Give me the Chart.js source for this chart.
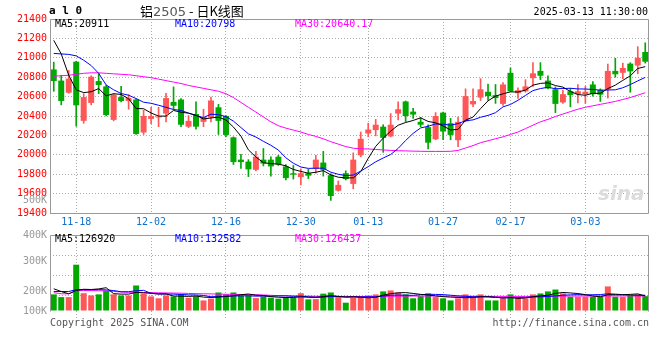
<!DOCTYPE html>
<html>
<head>
<meta charset="utf-8">
<title>铝2505 - 日K线图</title>
<script src="https://cdn.jsdelivr.net/npm/chart.js@4.4.1/dist/chart.umd.min.js"></script>
<style>
body { margin: 0; background: #fff; }
#page { position: relative; width: 660px; height: 360px; overflow: hidden; font-family: 'DejaVu Sans Mono', monospace; font-size: 10px; color: #000; }
canvas { position: absolute; left: 0; }
.t { position: absolute; white-space: nowrap; line-height: 12px; }
</style>
</head>
<body>
<div id="page">
  <canvas id="kChart" width="660" height="232" style="top:0"></canvas>
  <canvas id="volChart" width="660" height="110" style="top:226px"></canvas>

  <div class="t" style="left:49px;top:5px;font-weight:bold;font-size:11px">a l 0</div>
  <div class="t" style="left:140px;top:3px;font-family:'Noto Sans CJK SC';font-size:13px;line-height:16px">铝<span style="color:#555;font-family:'DejaVu Sans'">2505</span> - 日K线图</div>
  <div class="t" style="right:12px;top:6px">2025-03-13 11:30:00</div>

  <div class="t" style="left:55px;top:18px;color:#000">MA5:20911</div>
  <div class="t" style="left:175px;top:18px;color:#0000ff">MA10:20798</div>
  <div class="t" style="left:295px;top:18px;color:#ff00ff">MA30:20640.17</div>

  <div class="t" style="left:0;width:47px;text-align:right;top:194px;color:#999">500K</div>
  <div class="t" style="left:598px;top:182px;font-family:'DejaVu Sans';font-style:italic;font-weight:bold;font-size:20px;line-height:22px;color:#dcdcdc">sina</div>

  <div class="t" style="left:55px;top:233px;color:#000">MA5:126920</div>
  <div class="t" style="left:175px;top:233px;color:#0000ff">MA10:132582</div>
  <div class="t" style="left:295px;top:233px;color:#ff00ff">MA30:126437</div>

  <div class="t" style="left:50px;top:317px;color:#555">Copyright 2025 SINA.COM</div>
  <div class="t" style="right:11px;top:317px;color:#555">http://finance.sina.com.cn</div>
</div>

<script>
// trading days shown on the chart
const dates = [
  '11-13','11-14','11-15','11-18','11-19','11-20','11-21','11-22','11-25','11-26','11-27','11-28','11-29',
  '12-02','12-03','12-04','12-05','12-06','12-09','12-10','12-11','12-12','12-13',
  '12-16','12-17','12-18','12-19','12-20','12-23','12-24','12-25','12-26','12-27','12-30','12-31',
  '01-02','01-03','01-06','01-07','01-08','01-09','01-10','01-13','01-14','01-15','01-16','01-17',
  '01-20','01-21','01-22','01-23','01-24','01-27',
  '02-05','02-06','02-07','02-10','02-11','02-12','02-13','02-14','02-17','02-18','02-19','02-20',
  '02-21','02-24','02-25','02-26','02-27','02-28',
  '03-03','03-04','03-05','03-06','03-07','03-10','03-11','03-12','03-13'
];
const dateTicks = ['11-18','12-02','12-16','12-30','01-13','01-27','02-17','03-03'];

const open = [
  20880,20765,20640,20960,20350,20535,20760,20705,20360,20595,
  20555,20570,20230,20370,20385,20425,20545,20570,20290,20420,
  20340,20385,20490,20400,20180,19950,19930,19845,19950,19950,
  19980,19880,19810,19770,19810,19855,19920,19790,19630,19810,
  19700,19995,20220,20255,20290,20190,20425,20550,20445,20340,
  20285,20160,20435,20325,20150,20345,20520,20590,20650,20615,
  20525,20845,20635,20655,20790,20865,20765,20675,20540,20655,
  20625,20625,20725,20670,20675,20865,20845,20940,20920,21060
];
const close = [
  20760,20555,20785,20510,20595,20805,20720,20410,20620,20555,
  20585,20215,20400,20400,20395,20585,20505,20310,20350,20290,
  20390,20560,20350,20205,19925,19925,19850,19980,19910,19880,
  19900,19760,19795,19810,19785,19950,19845,19575,19690,19750,
  19950,20165,20260,20310,20175,20310,20470,20400,20415,20310,
  20125,20400,20240,20205,20340,20605,20555,20675,20605,20585,
  20725,20655,20665,20705,20840,20815,20685,20525,20625,20615,
  20655,20650,20625,20620,20865,20830,20895,20860,21000,20960
];
const high = [
  20955,20820,20870,20965,20630,20815,20835,20715,20630,20705,
  20620,20575,20460,20490,20490,20635,20700,20580,20405,20545,
  20470,20595,20520,20405,20185,20005,19950,20035,20065,19980,
  19995,19900,19890,19855,19850,19995,20035,19805,19730,19835,
  20020,20235,20325,20365,20310,20425,20545,20555,20480,20385,
  20310,20435,20440,20375,20390,20680,20680,20785,20730,20725,
  20745,20895,20690,20775,20950,20950,20815,20700,20665,20685,
  20725,20705,20755,20680,20935,20995,20945,20950,21115,21155
];
const low = [
  20655,20515,20635,20295,20325,20515,20630,20400,20350,20545,
  20470,20210,20210,20320,20290,20340,20470,20290,20280,20265,
  20290,20340,20210,20185,19900,19860,19775,19835,19885,19780,
  19890,19740,19750,19690,19755,19810,19780,19530,19625,19740,
  19650,19980,20185,20195,20025,20185,20360,20340,20375,20290,
  20060,20155,20155,20155,20085,20340,20495,20560,20560,20530,
  20510,20650,20580,20645,20705,20775,20680,20435,20530,20495,
  20535,20530,20605,20550,20585,20800,20785,20645,20835,20945
];
const ma5 = [
  21180,21040,20820,20670,20641,20650,20683,20608,20630,20622,
  20578,20477,20475,20431,20399,20399,20457,20439,20429,20408,
  20369,20380,20388,20359,20286,20193,20051,19977,19918,19909,
  19904,19886,19849,19829,19810,19820,19837,19793,19769,19762,
  19762,19826,19963,20087,20172,20244,20305,20333,20354,20381,
  20344,20330,20298,20256,20262,20358,20389,20476,20556,20605,
  20629,20649,20647,20667,20718,20736,20742,20714,20698,20653,
  20621,20614,20634,20633,20683,20718,20767,20814,20890,20909
];
const ma10 = [
  21045,21040,21035,21020,20975,20920,20840,20720,20670,20632,
  20614,20580,20542,20531,20511,20489,20467,20457,20430,20404,
  20384,20419,20414,20394,20347,20281,20216,20183,20139,20098,
  20049,19969,19913,19874,19860,19862,19862,19821,19799,19786,
  19791,19832,19878,19928,19967,20003,20066,20148,20221,20277,
  20294,20318,20316,20305,20322,20351,20360,20387,20406,20434,
  20494,20519,20562,20612,20662,20683,20696,20681,20683,20686,
  20679,20678,20674,20666,20668,20670,20691,20724,20762,20798
];
const ma30 = [
  20810,20815,20820,20830,20840,20845,20845,20840,20835,20830,
  20825,20815,20805,20795,20780,20765,20750,20735,20715,20700,
  20685,20670,20655,20630,20590,20540,20490,20440,20390,20340,
  20300,20275,20255,20235,20210,20190,20165,20135,20110,20085,
  20068,20062,20060,20055,20050,20045,20042,20040,20038,20036,
  20035,20035,20035,20036,20045,20070,20095,20125,20145,20165,
  20185,20210,20235,20270,20305,20340,20365,20395,20420,20445,
  20470,20490,20505,20520,20535,20550,20570,20590,20615,20640
];

// volume in thousands of lots
const volumeK = [
  140,117,117,390,150,131,140,168,140,131,
  131,215,146,123,107,131,123,140,112,123,
  89,104,156,140,156,131,131,109,123,112,
  104,117,112,150,98,100,146,156,117,70,
  112,123,131,140,165,173,156,140,107,125,
  148,117,107,89,107,140,123,140,89,89,
  107,140,107,107,140,148,165,181,148,120,
  120,120,120,120,207,120,120,131,140,125
];
const volMa5 = [
  187,164,145,173,183,181,186,196,146,142,
  142,157,153,149,144,144,126,125,123,126,
  117,114,117,122,129,137,143,133,130,121,
  116,113,114,119,116,115,121,130,123,118,
  120,116,111,115,134,146,153,155,148,140,
  135,127,121,117,114,112,113,120,120,116,
  110,113,106,110,120,128,133,148,156,152,
  147,138,126,120,137,137,137,140,144,127
];
const volMa10 = [
  164,164,164,180,180,180,180,178,172,162,
  162,171,174,148,143,143,142,139,136,135,
  131,120,121,123,127,127,128,125,126,125,
  127,128,124,125,119,116,117,122,121,117,
  118,118,120,119,126,133,134,133,132,137,
  141,140,138,133,127,124,120,120,119,115,
  111,113,113,115,118,119,123,127,133,136,
  138,136,137,138,145,142,138,133,132,133
];
const volMa30 = [
  154,145,145,170,172,172,170,170,165,160,
  158,158,156,155,153,152,151,150,148,146,
  145,144,142,141,140,139,138,137,135,132,
  129,127,126,125,125,124,124,124,123,123,
  122,122,122,122,123,124,125,125,126,126,
  126,126,126,125,125,124,124,124,123,123,
  123,123,123,123,123,124,124,125,125,126,
  126,126,126,127,127,127,127,127,126,126
];
const volGrid = [130, 297, 464];
const volTickVals = [0, 167, 417, 640];
const volTickLabels = ['100K', '200K', '300K', '400K'];

const UP = '#ff5757';
const DOWN = '#00a800';
const GRID = '#aaaaaa';

Chart.defaults.font.family = "'DejaVu Sans Mono', monospace";
Chart.defaults.font.size = 10;

const showIdx = dateTicks.map(d => dates.indexOf(d));
const colors = close.map((c, i) => c >= open[i] ? UP : DOWN);

const frame = {
    id: 'frame',
    afterDraw(chart, args, opts) {
        const { ctx, chartArea: a } = chart;
        ctx.save();
        ctx.strokeStyle = '#999';
        ctx.lineWidth = 1;
        ctx.beginPath();
        ctx.moveTo(a.left + 0.5, a.bottom + 0.5);
        ctx.lineTo(a.left + 0.5, a.top + 0.5);
        ctx.lineTo(a.right - 0.5, a.top + 0.5);
        ctx.lineTo(a.right - 0.5, a.bottom + 0.5);
        if (opts.bottom) ctx.lineTo(a.left + 0.5, a.bottom + 0.5);
        ctx.stroke();
        ctx.restore();
    }
};

function maLine(data, color) {
    return { type: 'line', data, borderColor: color, borderWidth: 1, pointRadius: 0, tension: 0, order: 0 };
}

const xGridColor = ctx => showIdx.includes(ctx.index) ? GRID : 'rgba(0,0,0,0)';

new Chart(document.getElementById('kChart'), {
    type: 'bar',
    data: {
        labels: dates,
        datasets: [
            maLine(ma5, '#000000'),
            maLine(ma10, '#0000ff'),
            maLine(ma30, '#ff00ff'),
            {
                data: open.map((o, i) => [o, close[i]]),
                backgroundColor: colors,
                barPercentage: 0.8, categoryPercentage: 1,
                grouped: false, minBarLength: 1, borderWidth: 0, order: 1
            },
            {
                data: low.map((l, i) => [l, high[i]]),
                backgroundColor: colors,
                barThickness: 1,
                grouped: false, borderWidth: 0, order: 2
            }
        ]
    },
    options: {
        responsive: false,
        animation: false,
        devicePixelRatio: 1,
        layout: { padding: { top: 19, right: 11, left: 0, bottom: 0 } },
        plugins: { legend: { display: false }, tooltip: { enabled: false }, frame: { bottom: true } },
        scales: {
            x: {
                offset: true,
                grid: { offset: false, color: xGridColor, drawTicks: false },
                border: { display: false, dash: [1, 2] },
                ticks: {
                    autoSkip: false, maxRotation: 0, minRotation: 0, padding: 3, color: '#1070c8',
                    callback: (v, i) => showIdx.includes(i) ? dates[i] : ''
                },
                afterFit: s => { s.height = 19; }
            },
            y: {
                min: 19400, max: 21400,
                ticks: { stepSize: 200, color: '#ff0000', padding: 3, callback: v => String(v) },
                grid: { color: GRID, drawTicks: false },
                border: { display: false, dash: [1, 2] },
                afterFit: s => { s.width = 50; }
            }
        }
    },
    plugins: [frame]
});

const volTicks = [...volTickVals, ...volGrid].sort((a, b) => a - b);

new Chart(document.getElementById('volChart'), {
    type: 'bar',
    data: {
        labels: dates,
        datasets: [
            maLine(volMa5, '#000000'),
            maLine(volMa10, '#0000ff'),
            maLine(volMa30, '#ff00ff'),
            {
                data: volumeK,
                backgroundColor: colors,
                barPercentage: 0.8, categoryPercentage: 1,
                borderWidth: 0, order: 1
            }
        ]
    },
    options: {
        responsive: false,
        animation: false,
        devicePixelRatio: 1,
        layout: { padding: { top: 8, right: 11, left: 0, bottom: 0 } },
        plugins: { legend: { display: false }, tooltip: { enabled: false }, frame: { bottom: false } },
        scales: {
            x: {
                offset: true,
                grid: { offset: false, color: xGridColor, tickColor: xGridColor, drawTicks: true, tickLength: 9, tickBorderDash: [1, 2] },
                border: { display: false, dash: [1, 2] },
                ticks: { display: false, autoSkip: false, maxRotation: 0 },
                afterFit: s => { s.height = 25; }
            },
            y: {
                min: 0, max: 640,
                afterBuildTicks: s => { s.ticks = volTicks.map(v => ({ value: v })); },
                ticks: {
                    color: '#999999', padding: 3, autoSkip: false,
                    callback: v => {
                        const k = volTickVals.indexOf(v);
                        return k >= 0 ? volTickLabels[k] : '';
                    }
                },
                grid: { color: ctx => volGrid.includes(ctx.tick.value) ? GRID : 'rgba(0,0,0,0)', drawTicks: false },
                border: { display: false, dash: [1, 2] },
                afterFit: s => { s.width = 50; }
            }
        }
    },
    plugins: [frame]
});
</script>
</body>
</html>
